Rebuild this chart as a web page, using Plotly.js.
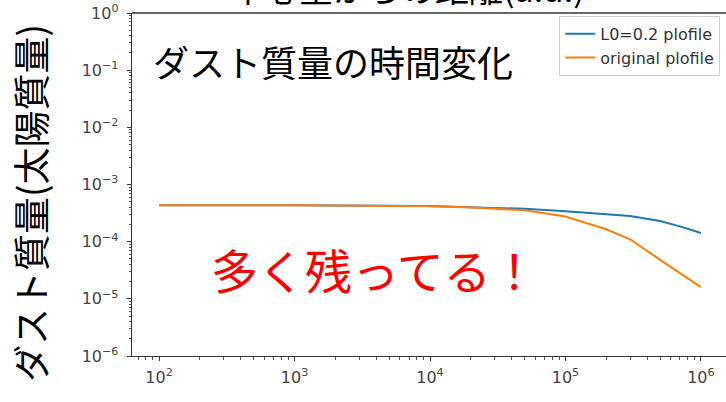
<!DOCTYPE html>
<html>
<head>
<meta charset="utf-8">
<script src="https://cdn.plot.ly/plotly-3.0.1.min.js"></script>
<style>
  html, body { margin: 0; padding: 0; background: #fff; overflow: hidden; }
  #chart { width: 730px; height: 402px; }
</style>
</head>
<body>
<div id="chart"></div>
<script>
// Elapsed time (years) and dust mass (solar masses) for two disk profiles
const timeYears = [1e2, 1e3, 1e4, 2e4, 5e4, 1e5, 2e5, 3e5, 5e5, 7e5, 1e6];
const massL02 = [4.35e-4, 4.35e-4, 4.2e-4, 4.05e-4, 3.75e-4, 3.4e-4, 3.05e-4, 2.8e-4, 2.3e-4, 1.85e-4, 1.42e-4];
const massOriginal = [4.35e-4, 4.35e-4, 4.15e-4, 3.95e-4, 3.55e-4, 2.75e-4, 1.65e-4, 1.1e-4, 4.8e-5, 2.8e-5, 1.6e-5];
const seriesNames = ['L0=0.2 plofile', 'original plofile'];

const xTickVals = [1e2, 1e3, 1e4, 1e5, 1e6];
const xTickText = ['10<sup>2</sup>', '10<sup>3</sup>', '10<sup>4</sup>', '10<sup>5</sup>', '10<sup>6</sup>'];
const yTickVals = [1e-6, 1e-5, 1e-4, 1e-3, 1e-2, 1e-1, 1e0];
const yTickText = ['10<sup>−6</sup>', '10<sup>−5</sup>', '10<sup>−4</sup>', '10<sup>−3</sup>', '10<sup>−2</sup>', '10<sup>−1</sup>', '10<sup>0</sup>'];

// minor ticks at 2..9 times each decade
function minorTicks(fromExp, toExp) {
  const out = [];
  for (let e = fromExp; e <= toExp; e++) {
    for (let d = 2; d <= 9; d++) out.push(d * Math.pow(10, e));
  }
  return out;
}

const jp = '"Noto Sans CJK JP", sans-serif';
const tickFont = { family: '"DejaVu Sans", sans-serif', size: 16, color: '#444' };
const xRange = [1.8, 6.2];
const yRange = [-6, 0];

const traces = [
  { x: timeYears, y: massL02, name: seriesNames[0], mode: 'lines',
    line: { color: '#1f77b4', width: 2 } },
  { x: timeYears, y: massOriginal, name: seriesNames[1], mode: 'lines',
    line: { color: '#ff7f0e', width: 2 } },
  // carrier for the overlaid minor-tick axes (transparent)
  { x: timeYears, y: massL02, xaxis: 'x2', yaxis: 'y2', mode: 'lines',
    line: { color: 'rgba(0,0,0,0)', width: 0 }, showlegend: false, hoverinfo: 'skip' }
];

const axisCommon = {
  type: 'log',
  showgrid: false,
  zeroline: false,
  showline: true,
  linecolor: '#333',
  linewidth: 1.3,
  ticks: 'outside',
  ticklen: 4,
  tickwidth: 1,
  tickcolor: '#333',
  tickfont: tickFont
};

const minorAxis = {
  type: 'log',
  showgrid: false,
  zeroline: false,
  showline: false,
  ticks: 'outside',
  ticklen: 2.5,
  tickwidth: 1,
  tickcolor: '#555',
  showticklabels: false,
  tickmode: 'array'
};

const layout = {
  width: 730,
  height: 402,
  margin: { l: 132, r: 2, t: 13, b: 46 },
  paper_bgcolor: '#fff',
  plot_bgcolor: '#fff',
  showlegend: true,
  xaxis: Object.assign({}, axisCommon, {
    range: xRange,
    tickvals: xTickVals, ticktext: xTickText,
    ticklabelstandoff: 2,
    mirror: false
  }),
  yaxis: Object.assign({}, axisCommon, {
    range: yRange,
    tickvals: yTickVals, ticktext: yTickText,
    ticklabelstandoff: 5,
    mirror: true
  }),
  xaxis2: Object.assign({}, minorAxis, {
    range: xRange, overlaying: 'x', anchor: 'y2', side: 'bottom',
    tickvals: minorTicks(1, 6)
  }),
  yaxis2: Object.assign({}, minorAxis, {
    range: yRange, overlaying: 'y', anchor: 'x2', side: 'left',
    tickvals: minorTicks(-6, -1)
  }),
  legend: {
    x: 0.987, y: 0.992, xanchor: 'right', yanchor: 'top',
    bgcolor: 'rgba(255,255,255,0.85)',
    bordercolor: '#d0d0d0', borderwidth: 1,
    font: { family: '"DejaVu Sans", sans-serif', size: 16, color: '#333' },
    tracegroupgap: 2
  },
  shapes: [
    { type: 'line', xref: 'paper', yref: 'paper', x0: 0, x1: 1, y0: 1, y1: 1,
      line: { color: '#333', width: 1.3 } }
  ],
  annotations: [
    { text: '中心星からの距離(a.u.)', xref: 'paper', yref: 'paper',
      x: (408 - 132) / 596, y: 1 - 1 / 343, xanchor: 'center', yanchor: 'bottom',
      showarrow: false, font: { family: jp, size: 34, color: '#000' } },
    { text: 'ダスト質量(太陽質量)', xref: 'paper', yref: 'paper',
      x: (30 - 132) / 596, y: (356 - 203) / 343, xanchor: 'center', yanchor: 'middle',
      textangle: -90, showarrow: false, font: { family: jp, size: 37, color: '#000' } },
    { text: 'ダスト質量の時間変化', xref: 'paper', yref: 'paper',
      x: (151 - 132) / 596, y: (356 - 61) / 343, xanchor: 'left', yanchor: 'middle',
      showarrow: false, font: { family: jp, size: 36, color: '#000' } },
    { text: '多く残ってる！', xref: 'paper', yref: 'paper',
      x: (209 - 132) / 596, y: (356 - 268) / 343, xanchor: 'left', yanchor: 'middle',
      showarrow: false, font: { family: jp, size: 47, color: '#ff0000' } }
  ]
};

Plotly.newPlot('chart', traces, layout, { displayModeBar: false, staticPlot: true });
</script>
</body>
</html>
